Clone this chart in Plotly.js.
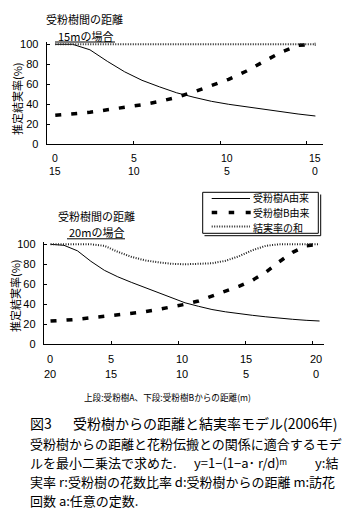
<!DOCTYPE html>
<html>
<head>
<meta charset="utf-8">
<script src="https://cdn.plot.ly/plotly-3.0.1.min.js"></script>
<style>html,body{margin:0;padding:0;background:#fff;}#chart{width:360px;height:514px;}</style>
</head>
<body>
<div id="chart"></div>
<script>
// ---- data: upper chart (15 m between pollinizers) ----
const topDist = [0.5,1.5,2.5,3.5,4.5,5.5,6.5,7.5,8.5,9.5,10.5,11.5,12.5,13.5,14.5,15.5];
const topA    = [100,100,94.5,83,72.5,64,57.5,51.5,47,43,40,37.5,35,32.5,30.3,28.3];
const topB    = [29,30.2,32,34.5,36.8,39.5,42.8,47,52.5,58.5,65,73,82.5,92,99,100];
const topSum  = [100,100,100,100,100,100,100,100,100,100,100,100,100,100,100,100];
const topTicks   = [0,5,10,15];
const topLabelsA = ['0','5','10','15'];
const topLabelsB = ['15','10','5','0'];

// ---- data: lower chart (20 m between pollinizers) ----
const botDist = [0.5,1.5,2.5,3.5,4.5,5.5,6.5,7.5,8.5,9.5,10.5,11.5,12.5,13.5,14.5,15.5,16.5,17.5,18.5,19.5,20.5];
const botA    = [100,99,93.5,83,74,67.5,62,57,52,46.5,41.5,38,34.8,32.5,30.5,29,27.5,26,25,24,23.3];
const botB    = [23.2,24,25,26.5,27.8,29.3,30.8,32.5,34.8,37.3,40,43.3,48,53,58,64,72,82.5,92,98.5,100];
const botSum  = [100,100,100,100,98.5,92.5,87.5,84,82,80.5,80,80.3,81,83.5,88,94,98.5,100,100,100,100];
const botTicks   = [0,5,10,15,20];
const botLabelsA = ['0','5','10','15','20'];
const botLabelsB = ['20','15','10','5','0'];

const yTicks = [0,20,40,60,80,100];
const seriesNames = ['受粉樹A由来','受粉樹B由来','結実率の和'];
const titleLine1 = '受粉樹間の距離';
const topTitle2 = '15mの場合';
const botTitle2 = '20mの場合';
const yTitle = '推定結実率(%)';
const xTitle = '上段:受粉樹A、下段:受粉樹Bからの距離(m)';
const figLabel = '図3';
const figTitle = '受粉樹からの距離と結実率モデル(2006年)';
const capLine2 = '受粉樹からの距離と花粉伝搬との関係に適合するモデ';
const capLine3a = 'ルを最小二乗法で求めた.';
const capFormula = 'y=1−(1−a･ r/d)ᵐ';
const capLine3b = 'y:結';
const capLine4 = '実率 r:受粉樹の花数比率 d:受粉樹からの距離 m:訪花';
const capLine5 = '回数 a:任意の定数.';

// ---- styling / layout helpers ----
const W = 360, H = 514;
const px = x => x / W;
const py = y => 1 - y / H;
const CJK = '"Noto Sans CJK JP", "Liberation Sans", "DejaVu Sans", sans-serif';
const NUM = '"Liberation Sans", Arial, sans-serif';
const styA = {color:'#000', width:1};
const styB = {color:'#000', width:3.5, dash:'6px,10px'};
const styS = {color:'#222', width:2, dash:'1px,1.5px'};
const topNudge = [8,1,7,8];
const botNudge = [6,0,4,0,3];

function tr(x, y, line, xa, ya){
  return {x:x, y:y, type:'scatter', mode:'lines', line:line, xaxis:xa, yaxis:ya,
          showlegend:false, hoverinfo:'skip', cliponaxis:false};
}
const data = [
  tr(topDist, topA, styA, 'x', 'y'),
  tr(topDist, topB, styB, 'x', 'y'),
  tr(topDist, topSum, styS, 'x', 'y'),
  tr(botDist, botA, styA, 'x2', 'y2'),
  tr(botDist, botB, styB, 'x2', 'y2'),
  tr(botDist, botSum, styS, 'x2', 'y2')
];

const xBase = {showline:true, linecolor:'#000', linewidth:1, ticks:'inside', ticklen:3,
  tickcolor:'#000', showgrid:false, zeroline:false, showticklabels:false, fixedrange:true};
const yBase = {showline:true, linecolor:'#000', linewidth:1, ticks:'inside', ticklen:3,
  tickcolor:'#000', showgrid:false, zeroline:false, range:[0,102], tickvals:yTicks,
  ticktext:yTicks.map(String), tickfont:{family:NUM, size:11, color:'#000'},
  ticklabelstandoff:5, fixedrange:true};

const annotations = [];
function ann(text, x, y, size, opts){
  annotations.push(Object.assign({text:text, x:px(x), y:py(y), xref:'paper', yref:'paper',
    showarrow:false, xanchor:'center', yanchor:'middle',
    font:{family:CJK, size:size, color:'#000'}}, opts||{}));
}
function tickLab(text, xv, xref, y, shift, size){
  annotations.push({text:text, x:xv, y:py(y), xref:xref, yref:'paper', xshift:shift,
    showarrow:false, yanchor:'middle', font:{family:NUM, size:size, color:'#000'}});
}
// two-row x tick labels (upper row: distance from A, lower row: distance from B)
topTicks.forEach((t,i)=>{
  tickLab(topLabelsA[i], t, 'x', 158.3, topNudge[i], 10.5);
  tickLab(topLabelsB[i], t, 'x', 170.6, topNudge[i], 10.5);
});
botTicks.forEach((t,i)=>{
  tickLab(botLabelsA[i], t, 'x2', 359, botNudge[i], 11);
  tickLab(botLabelsB[i], t, 'x2', 373.5, botNudge[i], 11);
});
// titles
ann(titleLine1, 84.5, 19.5, 11);
ann(topTitle2, 85, 35.6, 11);
ann(titleLine1, 96.5, 216.3, 11);
ann(botTitle2, 96, 232.4, 11);
// y titles
ann(yTitle, 17, 99, 11, {textangle:-90});
ann(yTitle, 15, 296, 11, {textangle:-90});
// x title
ann(xTitle, 167.5, 396.5, 8.6);
// legend text
ann(seriesNames[0], 251, 198, 10, {xanchor:'left'});
ann(seriesNames[1], 251, 212.7, 10, {xanchor:'left'});
ann(seriesNames[2], 251, 227.4, 10, {xanchor:'left'});
// caption
ann(figLabel, 28, 423.4, 14, {xanchor:'left'});
ann(figTitle, 340, 423.4, 14, {xanchor:'right'});
ann(capLine2, 28, 443.3, 13, {xanchor:'left'});
ann(capLine3a, 28, 462.3, 13, {xanchor:'left'});
ann(capFormula, 192, 462.3, 13, {xanchor:'left'});
ann(capLine3b, 340, 462.3, 13, {xanchor:'right'});
ann(capLine4, 28, 481.3, 13, {xanchor:'left'});
ann(capLine5, 28, 500.3, 13, {xanchor:'left'});

const shapes = [];
function seg(x0,y0,x1,y1,line){
  shapes.push({type:'line', xref:'paper', yref:'paper', x0:px(x0), y0:py(y0), x1:px(x1), y1:py(y1), line:line});
}
// underlines
seg(55, 42, 115, 42, {color:'#000', width:1});
seg(67, 238.8, 125, 238.8, {color:'#000', width:1});
// legend box + shadow
shapes.push({type:'rect', xref:'paper', yref:'paper', x0:px(202.7), y0:py(233.3), x1:px(318.3), y1:py(192.3),
  line:{color:'#000', width:1}, fillcolor:'#fff'});
seg(320.7, 194.5, 320.7, 235.7, {color:'#000', width:1});
seg(204.5, 235.7, 320.7, 235.7, {color:'#000', width:1});
// legend samples
seg(211.7, 198.5, 250, 198.5, styA);
seg(211.7, 212.5, 250.7, 212.5, {color:'#000', width:3.5, dash:'5.5px,11.5px'});
seg(211.7, 226.5, 250, 226.5, styS);

const layout = {
  width:W, height:H, margin:{l:0,r:0,t:0,b:0}, paper_bgcolor:'#fff', plot_bgcolor:'rgba(0,0,0,0)',
  showlegend:false, font:{family:CJK, color:'#000'},
  xaxis: Object.assign({}, xBase, {domain:[46.6/W, 322.7/W], range:[0,15.92], tickvals:topTicks, anchor:'y'}),
  yaxis: Object.assign({}, yBase, {domain:[py(144.3), py(42.3)], anchor:'x'}),
  xaxis2: Object.assign({}, xBase, {domain:[43.8/W, 324/W], range:[0,20.83], tickvals:botTicks, anchor:'y2'}),
  yaxis2: Object.assign({}, yBase, {domain:[py(344.3), py(242.3)], anchor:'x2'}),
  annotations:annotations, shapes:shapes
};
Plotly.newPlot('chart', data, layout, {staticPlot:true, displayModeBar:false});
</script>
</body>
</html>
